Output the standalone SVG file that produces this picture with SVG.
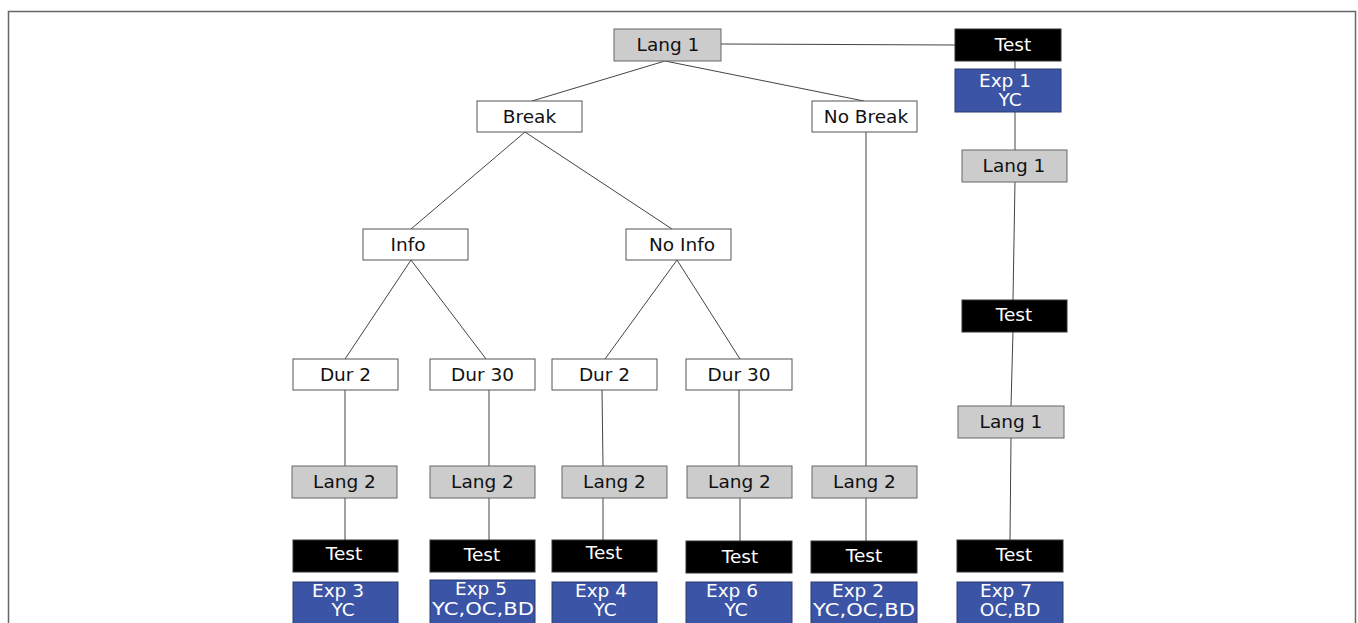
<svg xmlns="http://www.w3.org/2000/svg" width="1358" height="623" viewBox="0 0 1358 623">
<style>
.w{fill:#ffffff;stroke:#555;stroke-width:1}
.g{fill:#cccccc;stroke:#666;stroke-width:1}
.k{fill:#000000;stroke:#333;stroke-width:1}
.b{fill:#3b54a5;stroke:#2a3a70;stroke-width:1}
text{font-family:"DejaVu Sans",Verdana,sans-serif;font-size:18.5px;text-anchor:middle}
.dt{fill:#111}
.lt{fill:#ffffff}
#edges line{stroke:#444;stroke-width:1}
</style>
<rect x="8.5" y="11.5" width="1347" height="640" fill="none" stroke="#666" stroke-width="1.5"/>
<g id="edges">
<line x1="721" y1="44" x2="955" y2="45"/>
<line x1="665" y1="61" x2="532" y2="101"/>
<line x1="665" y1="61" x2="864" y2="101"/>
<line x1="525" y1="132" x2="411" y2="229"/>
<line x1="525" y1="132" x2="672" y2="229"/>
<line x1="411" y1="260" x2="345" y2="359"/>
<line x1="411" y1="260" x2="486" y2="359"/>
<line x1="677" y1="260" x2="605" y2="359"/>
<line x1="677" y1="260" x2="740" y2="359"/>
<line x1="345" y1="390" x2="345" y2="466"/>
<line x1="489" y1="390" x2="489" y2="466"/>
<line x1="602" y1="390" x2="603" y2="466"/>
<line x1="739" y1="390" x2="739" y2="466"/>
<line x1="866" y1="132" x2="866" y2="466"/>
<line x1="345" y1="497" x2="345" y2="540"/>
<line x1="489" y1="497" x2="489" y2="540"/>
<line x1="603" y1="497" x2="603" y2="540"/>
<line x1="740" y1="497" x2="740" y2="541"/>
<line x1="866" y1="497" x2="866" y2="541"/>
<line x1="1015" y1="60" x2="1015" y2="69"/>
<line x1="1015" y1="112" x2="1015" y2="150"/>
<line x1="1015" y1="181" x2="1013" y2="300"/>
<line x1="1013" y1="331" x2="1011" y2="406"/>
<line x1="1011" y1="437" x2="1010" y2="540"/>
</g>
<g id="lang1-top"><rect class="g" x="614" y="29" width="107" height="32"/><text class="dt" x="668" y="51">Lang 1</text></g>
<g id="test-r1"><rect class="k" x="955" y="29" width="106" height="32"/><text class="lt" x="1013" y="51">Test</text></g>
<g id="exp1"><rect class="b" x="955" y="69" width="106" height="43"/><text class="lt" x="1005" y="87">Exp 1</text><text class="lt" x="1010" y="106">YC</text></g>
<g id="lang1-r2"><rect class="g" x="962" y="150" width="105" height="32"/><text class="dt" x="1014" y="172">Lang 1</text></g>
<g id="test-r2"><rect class="k" x="962" y="300" width="105" height="32"/><text class="lt" x="1014" y="321">Test</text></g>
<g id="lang1-r3"><rect class="g" x="958" y="406" width="106" height="32"/><text class="dt" x="1011" y="428">Lang 1</text></g>
<g id="break"><rect class="w" x="477" y="101" width="105" height="31"/><text class="dt" x="529.5" y="123">Break</text></g>
<g id="nobreak"><rect class="w" x="812" y="101" width="105" height="31"/><text class="dt" x="866" y="123">No Break</text></g>
<g id="info"><rect class="w" x="363" y="229" width="105" height="31"/><text class="dt" x="408" y="251">Info</text></g>
<g id="noinfo"><rect class="w" x="626" y="229" width="105" height="31"/><text class="dt" x="682" y="251">No Info</text></g>
<g id="dur2a"><rect class="w" x="293" y="359" width="105" height="31"/><text class="dt" x="345.5" y="381">Dur 2</text></g>
<g id="dur30a"><rect class="w" x="430" y="359" width="105" height="31"/><text class="dt" x="482.5" y="381">Dur 30</text></g>
<g id="dur2b"><rect class="w" x="552" y="359" width="105" height="31"/><text class="dt" x="604.5" y="381">Dur 2</text></g>
<g id="dur30b"><rect class="w" x="686" y="359" width="106" height="31"/><text class="dt" x="739" y="381">Dur 30</text></g>
<g id="lang2a"><rect class="g" x="292" y="466" width="105" height="32"/><text class="dt" x="344.5" y="488">Lang 2</text></g>
<g id="lang2b"><rect class="g" x="430" y="466" width="105" height="32"/><text class="dt" x="482.5" y="488">Lang 2</text></g>
<g id="lang2c"><rect class="g" x="562" y="466" width="105" height="32"/><text class="dt" x="614.5" y="488">Lang 2</text></g>
<g id="lang2d"><rect class="g" x="687" y="466" width="105" height="32"/><text class="dt" x="739.5" y="488">Lang 2</text></g>
<g id="lang2e"><rect class="g" x="812" y="466" width="105" height="32"/><text class="dt" x="864.5" y="488">Lang 2</text></g>
<g id="test-a"><rect class="k" x="293" y="540" width="105" height="32"/><text class="lt" x="344" y="560">Test</text></g>
<g id="test-b"><rect class="k" x="430" y="540" width="105" height="32"/><text class="lt" x="482" y="561">Test</text></g>
<g id="test-c"><rect class="k" x="552" y="540" width="105" height="32"/><text class="lt" x="604" y="559">Test</text></g>
<g id="test-d"><rect class="k" x="686" y="541" width="106" height="32"/><text class="lt" x="740" y="563">Test</text></g>
<g id="test-e"><rect class="k" x="811" y="541" width="106" height="32"/><text class="lt" x="864" y="562">Test</text></g>
<g id="test-f"><rect class="k" x="957" y="540" width="106" height="32"/><text class="lt" x="1014" y="561">Test</text></g>
<g id="exp3"><rect class="b" x="293" y="582" width="105" height="50"/><text class="lt" x="338" y="597">Exp 3</text><text class="lt" x="343" y="616">YC</text></g>
<g id="exp5"><rect class="b" x="430" y="580" width="105" height="50"/><text class="lt" x="481" y="595">Exp 5</text><text class="lt" x="483" y="615" textLength="102" lengthAdjust="spacingAndGlyphs">YC,OC,BD</text></g>
<g id="exp4"><rect class="b" x="552" y="582" width="105" height="50"/><text class="lt" x="601" y="597">Exp 4</text><text class="lt" x="605" y="616">YC</text></g>
<g id="exp6"><rect class="b" x="686" y="582" width="106" height="50"/><text class="lt" x="732" y="597">Exp 6</text><text class="lt" x="736" y="616">YC</text></g>
<g id="exp2"><rect class="b" x="811" y="582" width="106" height="50"/><text class="lt" x="858" y="597">Exp 2</text><text class="lt" x="864" y="616" textLength="102" lengthAdjust="spacingAndGlyphs">YC,OC,BD</text></g>
<g id="exp7"><rect class="b" x="957" y="582" width="106" height="50"/><text class="lt" x="1006" y="597">Exp 7</text><text class="lt" x="1010" y="616">OC,BD</text></g>
</svg>
